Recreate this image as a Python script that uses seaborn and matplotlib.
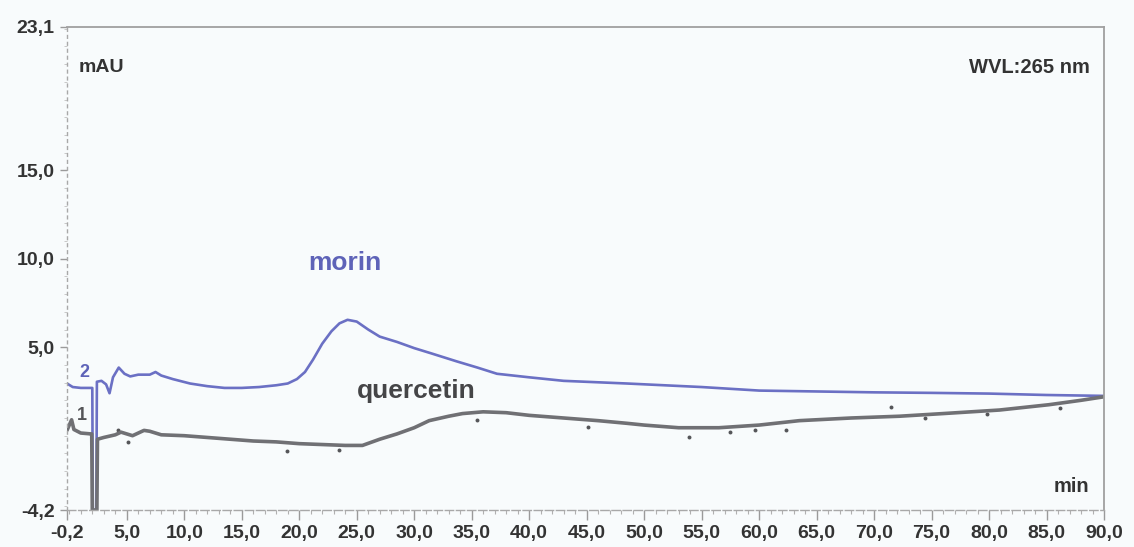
import numpy as np
import pandas as pd
import matplotlib
matplotlib.use("Agg")
import matplotlib.pyplot as plt
import seaborn as sns
from matplotlib.ticker import FixedLocator, MultipleLocator

# ---------------- data ----------------
morin_t = [-0.2, 0.3, 1.0, 1.9, 2.0, 2.05, 2.35, 2.4, 2.8, 3.2, 3.5, 3.8, 4.3, 4.8, 5.3,
           6.0, 7.0, 7.5, 8.0, 9.0, 10.5, 12.0, 13.5, 15.0, 16.5, 18.0, 19.0, 19.8,
           20.5, 21.2, 22.0, 22.8, 23.5, 24.2, 25.0, 26.0, 27.0, 28.5, 30.0, 31.5,
           33.7, 35.5, 37.2, 40.0, 43.0, 48.5, 55.0, 60.0, 65.0, 70.0, 75.0, 80.0,
           85.0, 90.0]
morin_v = [2.95, 2.75, 2.7, 2.7, 2.7, -4.2, -4.2, 3.05, 3.1, 2.9, 2.4, 3.3, 3.85, 3.5, 3.35,
           3.45, 3.45, 3.6, 3.4, 3.2, 2.95, 2.8, 2.7, 2.7, 2.75, 2.85, 2.95, 3.2,
           3.6, 4.3, 5.2, 5.9, 6.35, 6.55, 6.45, 6.0, 5.6, 5.3, 4.95, 4.65,
           4.2, 3.85, 3.5, 3.3, 3.1, 2.95, 2.75, 2.55, 2.5, 2.45, 2.42, 2.38,
           2.3, 2.25]

querc_t = [-0.2, 0.2, 0.4, 1.0, 1.9, 1.95, 2.0, 2.4, 2.45, 3.0, 4.0, 4.5, 5.5, 6.5, 7.0,
           8.0, 10.0, 12.0, 14.0, 16.0, 18.0, 20.0, 22.0, 24.0, 25.5, 27.0, 28.5,
           30.0, 31.3, 33.0, 34.2, 36.0, 38.0, 40.0, 43.0, 46.0, 48.5, 50.0, 53.0,
           56.5, 60.0, 63.5, 68.0, 72.2, 76.0, 80.9, 85.2, 88.0, 90.0]
querc_v = [0.3, 0.9, 0.35, 0.15, 0.1, 0.1, -4.2, -4.2, -0.2, -0.1, 0.05, 0.2, 0.0, 0.3, 0.25,
           0.05, 0.0, -0.1, -0.2, -0.3, -0.35, -0.45, -0.5, -0.55, -0.55, -0.2, 0.1,
           0.45, 0.85, 1.1, 1.25, 1.35, 1.3, 1.15, 1.0, 0.85, 0.7, 0.6, 0.45,
           0.45, 0.6, 0.85, 1.0, 1.1, 1.25, 1.45, 1.75, 2.0, 2.2]

# scattered noise dots on the quercetin trace
noise_t = [4.2, 5.1, 18.9, 23.5, 35.5, 45.1, 53.9, 57.5, 59.6, 62.3, 71.5, 74.4, 79.8, 86.2]
noise_v = [0.35, -0.34, -0.85, -0.8, 0.9, 0.5, -0.06, 0.23, 0.35, 0.3, 1.6, 1.0, 1.25, 1.55]

x_ticks = [-0.2, 5, 10, 15, 20, 25, 30, 35, 40, 45, 50, 55, 60, 65, 70, 75, 80, 85, 90]
x_tick_labels = ["-0,2", "5,0", "10,0", "15,0", "20,0", "25,0", "30,0", "35,0", "40,0",
                 "45,0", "50,0", "55,0", "60,0", "65,0", "70,0", "75,0", "80,0",
                 "85,0", "90,0"]
y_ticks = [-4.2, 5.0, 10.0, 15.0, 23.1]
y_tick_labels = ["-4,2", "5,0", "10,0", "15,0", "23,1"]

# ---------------- style ----------------
sns.set_style("white")
plt.rcParams['font.family'] = ['Liberation Sans', 'DejaVu Sans']

bg = "#f8fbfc"
blue = "#6b70c4"
gray = "#707074"
txt = "#333333"

fig = plt.figure(figsize=(11.34, 5.47), dpi=100, facecolor=bg)
ax = fig.add_axes([67 / 1134, 1 - 510 / 547, (1104 - 67) / 1134, (510 - 27) / 547])
ax.set_facecolor(bg)

dm = pd.DataFrame({"t": morin_t, "v": morin_v})
dq = pd.DataFrame({"t": querc_t, "v": querc_v})
dn = pd.DataFrame({"t": noise_t, "v": noise_v})

sns.lineplot(data=dm, x="t", y="v", color=blue, lw=1.9, ax=ax,
             estimator=None, sort=False)
sns.lineplot(data=dq, x="t", y="v", color=gray, lw=2.6, ax=ax,
             estimator=None, sort=False)
sns.scatterplot(data=dn, x="t", y="v", color="#555558", s=8, linewidth=0, ax=ax)

ax.set_xlim(-0.2, 90)
ax.set_ylim(-4.2, 23.1)
ax.set_xlabel("")
ax.set_ylabel("")

ax.xaxis.set_major_locator(FixedLocator(x_ticks))
ax.set_xticklabels(x_tick_labels, fontweight="bold", color=txt, fontsize=14)
ax.xaxis.set_minor_locator(MultipleLocator(1))
ax.yaxis.set_major_locator(FixedLocator(y_ticks))
ax.set_yticklabels(y_tick_labels, fontweight="bold", color=txt, fontsize=14)
ax.yaxis.set_minor_locator(MultipleLocator(1))

ax.tick_params(axis="x", which="major", direction="out", length=7, width=1,
               color="#9a9a9a", pad=4, bottom=True)
ax.tick_params(axis="x", which="minor", direction="out", length=3, width=0.8,
               color="#b0b0b0", bottom=True)
ax.tick_params(axis="y", which="major", direction="out", length=5, width=1,
               color="#9a9a9a", pad=4, left=True)
ax.tick_params(axis="y", which="minor", direction="out", length=2, width=0.6,
               color="#c0c0c0", left=True)

for side in ["top", "right"]:
    ax.spines[side].set_visible(True)
    ax.spines[side].set_color("#a0a0a0")
    ax.spines[side].set_linewidth(1.3)
ax.spines["left"].set_color("#a8a8a8")
ax.spines["left"].set_linestyle((0, (2, 3)))
ax.spines["left"].set_linewidth(1.0)
ax.spines["bottom"].set_color("#a8a8a8")
ax.spines["bottom"].set_linestyle((0, (6, 2)))
ax.spines["bottom"].set_linewidth(1.0)

# annotations
ax.text(0.8, 20.8, "mAU", fontsize=14, fontweight="bold", color=txt,
        ha="left", va="center")
ax.text(88.8, 20.8, "WVL:265 nm", fontsize=14.5, fontweight="bold", color=txt,
        ha="right", va="center")
ax.text(88.7, -2.9, "min", fontsize=14.5, fontweight="bold", color=txt,
        ha="right", va="center")
ax.text(24.0, 9.76, "morin", fontsize=19, fontweight="bold", color="#5e63b8",
        ha="center", va="center")
ax.text(30.2, 2.5, "quercetin", fontsize=19, fontweight="bold", color="#454547",
        ha="center", va="center")
ax.text(1.3, 3.55, "2", fontsize=13, fontweight="bold", color="#5e63b8",
        ha="center", va="center")
ax.text(1.1, 1.15, "1", fontsize=13, fontweight="bold", color="#555558",
        ha="center", va="center")

fig.savefig("out.png", dpi=100, facecolor=bg)
